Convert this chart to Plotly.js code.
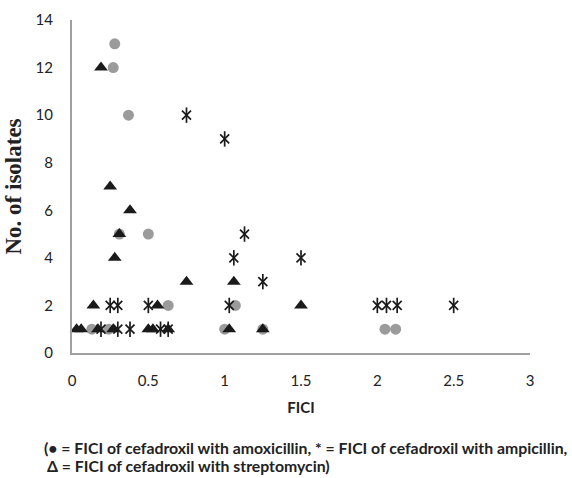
<!DOCTYPE html>
<html>
<head>
<meta charset="utf-8">
<script src="https://cdn.plot.ly/plotly-3.0.1.min.js"></script>
<style>html,body{margin:0;padding:0;background:#fff;}#chart{width:572px;height:478px;}</style>
</head>
<body>
<div id="chart"></div>
<script>
// FICI values and number of isolates for each combination
const amoxX = [0.28, 0.27, 0.37, 0.31, 0.50, 0.63, 1.07, 0.13, 0.24, 1.00, 1.25, 2.05, 2.12];
const amoxY = [13, 12, 10, 5, 5, 2, 2, 1, 1, 1, 1, 1, 1];

const ampX = [0.75, 1.00, 1.13, 1.06, 1.50, 1.25, 0.25, 0.30, 0.50, 1.03, 2.00, 2.06, 2.13, 2.50, 0.19, 0.30, 0.38, 0.58, 0.63];
const ampY = [10, 9, 5, 4, 4, 3, 2, 2, 2, 2, 2, 2, 2, 2, 1, 1, 1, 1, 1];

const strepX = [0.19, 0.25, 0.38, 0.31, 0.28, 0.75, 1.06, 0.14, 0.56, 1.50, 0.03, 0.06, 0.17, 0.27, 0.50, 0.53, 0.63, 1.03, 1.25];
const strepY = [12, 7, 6, 5, 4, 3, 3, 2, 2, 2, 1, 1, 1, 1, 1, 1, 1, 1, 1];

const xTicks = [0, 0.5, 1, 1.5, 2, 2.5, 3];
const xTickText = ['0', '0.5', '1', '1.5', '2', '2.5', '3'];
const yTicks = [0, 2, 4, 6, 8, 10, 12, 14];

const traces = [
  {x: amoxX, y: amoxY, type: 'scatter', mode: 'markers', name: 'amoxicillin', cliponaxis: false,
   marker: {symbol: 'circle', size: 11, color: '#9b9b9b'}},
  {x: ampX, y: ampY, type: 'scatter', mode: 'markers', name: 'ampicillin', cliponaxis: false,
   marker: {symbol: 'x-thin-open', size: 9, color: '#1a1a1a', line: {width: 1.7, color: '#1a1a1a'}}},
  {x: ampX, y: ampY, type: 'scatter', mode: 'markers', name: 'ampicillin', showlegend: false, cliponaxis: false,
   marker: {symbol: 'line-ns-open', size: 11, color: '#1a1a1a', line: {width: 1.7, color: '#1a1a1a'}}},
  {x: strepX, y: strepY, type: 'scatter', mode: 'markers', name: 'streptomycin', cliponaxis: false,
   marker: {symbol: 'triangle-up', size: 12, color: '#1a1a1a'}}
];

const layout = {
  width: 572, height: 478,
  margin: {l: 72, r: 42, t: 20, b: 125},
  paper_bgcolor: '#fff', plot_bgcolor: '#fff',
  showlegend: false,
  font: {family: 'Lato, "Open Sans", sans-serif', size: 15, color: '#222'},
  xaxis: {
    range: [0, 3], tickvals: xTicks, ticktext: xTickText,
    showgrid: false, zeroline: false, showline: true, linecolor: '#a0a0a0', linewidth: 2,
    ticks: '', ticklabelstandoff: 13,
    tickfont: {family: 'Lato, "Open Sans", sans-serif', size: 15, color: '#222'},
    title: {text: '<b>FICI</b>', standoff: 14, font: {family: 'Lato, "Open Sans", sans-serif', size: 15, color: '#222'}}
  },
  yaxis: {
    range: [0, 14], tickvals: yTicks,
    showgrid: false, zeroline: false, showline: true, linecolor: '#a0a0a0', linewidth: 2,
    ticks: '', ticklabelstandoff: 14,
    tickfont: {family: 'Lato, "Open Sans", sans-serif', size: 15, color: '#222'},
    title: {text: '<b>No. of isolates</b>', standoff: 8, font: {family: '"Liberation Serif", "Times New Roman", serif', size: 23, color: '#222'}}
  },
  annotations: [
    {xref: 'paper', yref: 'paper', x: -0.066, y: -0.285, xanchor: 'left', yanchor: 'middle', showarrow: false,
     text: '<b>(• = FICI of cefadroxil with amoxicillin, * = FICI of cefadroxil with ampicillin,</b>',
     font: {family: 'Lato, "Open Sans", sans-serif', size: 15.8, color: '#222'}},
    {xref: 'paper', yref: 'paper', x: -0.060, y: -0.338, xanchor: 'left', yanchor: 'middle', showarrow: false,
     text: '<b>Δ = FICI of cefadroxil with streptomycin)</b>',
     font: {family: 'Lato, "Open Sans", sans-serif', size: 15.8, color: '#222'}}
  ]
};

Plotly.newPlot('chart', traces, layout, {displayModeBar: false, staticPlot: true});
</script>
</body>
</html>
